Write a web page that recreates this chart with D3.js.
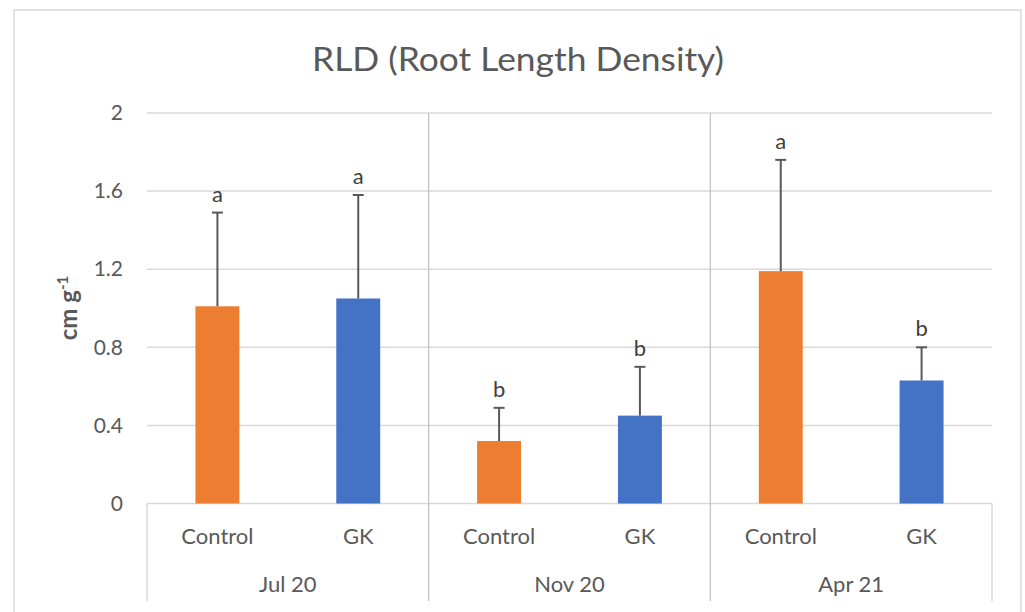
<!DOCTYPE html>
<html>
<head>
<meta charset="utf-8">
<script src="https://cdn.jsdelivr.net/npm/d3@7"></script>
<style>
  body { margin: 0; background: #fff; }
  text { font-family: Lato, "Open Sans", sans-serif; }
</style>
</head>
<body>
<div id="chart"></div>
<script>
// Sampling dates and treatments
const periods = ["Jul 20", "Nov 20", "Apr 21"];
const treatments = ["Control", "GK"];

// Mean RLD per period (Control, GK) and upper error bar ends
const controlValues = [1.01, 0.32, 1.19];
const gkValues = [1.05, 0.45, 0.63];
const controlErr = [0.48, 0.17, 0.57];
const gkErr = [0.53, 0.25, 0.17];

// Significance letters
const controlLetters = ["a", "b", "a"];
const gkLetters = ["a", "b", "b"];

const yTicks = [0, 0.4, 0.8, 1.2, 1.6, 2];

const colors = { Control: "#ED7D31", GK: "#4472C4" };

// build rows from the arrays
let rows = [];
periods.forEach((p, i) => {
    rows.push({ period: p, treatment: "Control", value: controlValues[i], err: controlErr[i], letter: controlLetters[i] });
    rows.push({ period: p, treatment: "GK", value: gkValues[i], err: gkErr[i], letter: gkLetters[i] });
});

const width = 1025, height = 612;
const plotLeft = 147, plotRight = 992, plotTop = 113, zeroY = 503.5, axisBottom = 601;

let svg = d3.select("#chart").append("svg")
    .attr("width", width)
    .attr("height", height);

// chart frame
svg.append("rect")
    .attr("x", 14).attr("y", 10)
    .attr("width", 1007).attr("height", 620)
    .attr("fill", "#fff")
    .attr("stroke", "#d9d9d9")
    .attr("stroke-width", 1.5);

let yScale = d3.scaleLinear().domain([0, 2]).range([zeroY, plotTop]);

let xScale = d3.scaleBand().domain(periods).range([plotLeft, plotRight]);

let innerScale = d3.scaleBand()
    .domain(treatments)
    .range([0, xScale.bandwidth()])
    .paddingInner(0.688)
    .paddingOuter(0.344);

// Title
svg.append("text")
    .attr("x", 518).attr("y", 71)
    .attr("text-anchor", "middle")
    .attr("font-size", 32)
    .attr("textLength", 412)
    .attr("lengthAdjust", "spacingAndGlyphs")
    .attr("fill", "#595959")
    .text("RLD (Root Length Density)");

// Gridlines
svg.append("g").selectAll("line")
    .data(yTicks.filter(d => d > 0))
    .join("line")
    .attr("x1", plotLeft).attr("x2", plotRight)
    .attr("y1", d => yScale(d)).attr("y2", d => yScale(d))
    .attr("stroke", "#d9d9d9")
    .attr("stroke-width", 1.5);

// y axis labels
let yAxis = d3.axisLeft(yScale)
    .tickValues(yTicks)
    .tickFormat(d => d3.format("")(d))
    .tickSize(0)
    .tickPadding(24);

let yAxisG = svg.append("g")
    .attr("transform", `translate(${plotLeft},0)`)
    .call(yAxis);
yAxisG.select(".domain").remove();
yAxisG.selectAll("text")
    .attr("font-family", "Lato, sans-serif")
    .attr("font-size", 21)
    .attr("fill", "#595959");

// y axis title
let yTitle = svg.append("text")
    .attr("transform", "translate(77,308) rotate(-90)")
    .attr("text-anchor", "middle")
    .attr("font-size", 24)
    .attr("font-weight", "bold")
    .attr("fill", "#595959");
yTitle.append("tspan").text("cm g");
yTitle.append("tspan").attr("baseline-shift", "super").attr("font-size", 15).text("-1");

// Category axis box
let axisG = svg.append("g").attr("stroke", "#d9d9d9").attr("stroke-width", 1.5);
axisG.append("line")
    .attr("x1", plotLeft).attr("x2", plotRight)
    .attr("y1", zeroY).attr("y2", zeroY);
axisG.append("line")
    .attr("x1", plotLeft).attr("x2", plotLeft)
    .attr("y1", zeroY).attr("y2", axisBottom);
axisG.append("line")
    .attr("x1", plotRight).attr("x2", plotRight)
    .attr("y1", zeroY).attr("y2", axisBottom);

// separators between periods run through the plot
svg.append("g").selectAll("line")
    .data(periods.slice(1))
    .join("line")
    .attr("x1", d => xScale(d)).attr("x2", d => xScale(d))
    .attr("y1", plotTop).attr("y2", axisBottom)
    .attr("stroke", "#bfbfbf")
    .attr("stroke-width", 1.2);

// Bars
let barG = svg.append("g");
barG.selectAll("rect")
    .data(rows)
    .join("rect")
    .attr("x", d => xScale(d.period) + innerScale(d.treatment))
    .attr("width", innerScale.bandwidth())
    .attr("y", d => yScale(d.value))
    .attr("height", d => zeroY - yScale(d.value))
    .attr("fill", d => colors[d.treatment]);

// Error bars (upper only)
let center = d => xScale(d.period) + innerScale(d.treatment) + innerScale.bandwidth() / 2;
let errG = svg.append("g").attr("stroke", "#595959").attr("stroke-width", 2);
errG.selectAll("line.stem")
    .data(rows)
    .join("line")
    .attr("class", "stem")
    .attr("x1", center).attr("x2", center)
    .attr("y1", d => yScale(d.value))
    .attr("y2", d => yScale(d.value + d.err));
errG.selectAll("line.cap")
    .data(rows)
    .join("line")
    .attr("class", "cap")
    .attr("x1", d => center(d) - 5.5).attr("x2", d => center(d) + 5.5)
    .attr("y1", d => yScale(d.value + d.err))
    .attr("y2", d => yScale(d.value + d.err));

// letters
svg.append("g").selectAll("text")
    .data(rows)
    .join("text")
    .attr("x", center)
    .attr("y", d => yScale(d.value + d.err) - 11)
    .attr("text-anchor", "middle")
    .attr("font-size", 22)
    .attr("fill", "#404040")
    .text(d => d.letter);

// Treatment labels
svg.append("g").selectAll("text")
    .data(rows)
    .join("text")
    .attr("x", center)
    .attr("y", 544)
    .attr("text-anchor", "middle")
    .attr("font-size", 22)
    .attr("fill", "#595959")
    .text(d => d.treatment);

// Period labels
svg.append("g").selectAll("text")
    .data(periods)
    .join("text")
    .attr("x", d => xScale(d) + xScale.bandwidth() / 2)
    .attr("y", 592)
    .attr("text-anchor", "middle")
    .attr("font-size", 22)
    .attr("fill", "#595959")
    .text(d => d);
</script>
</body>
</html>
